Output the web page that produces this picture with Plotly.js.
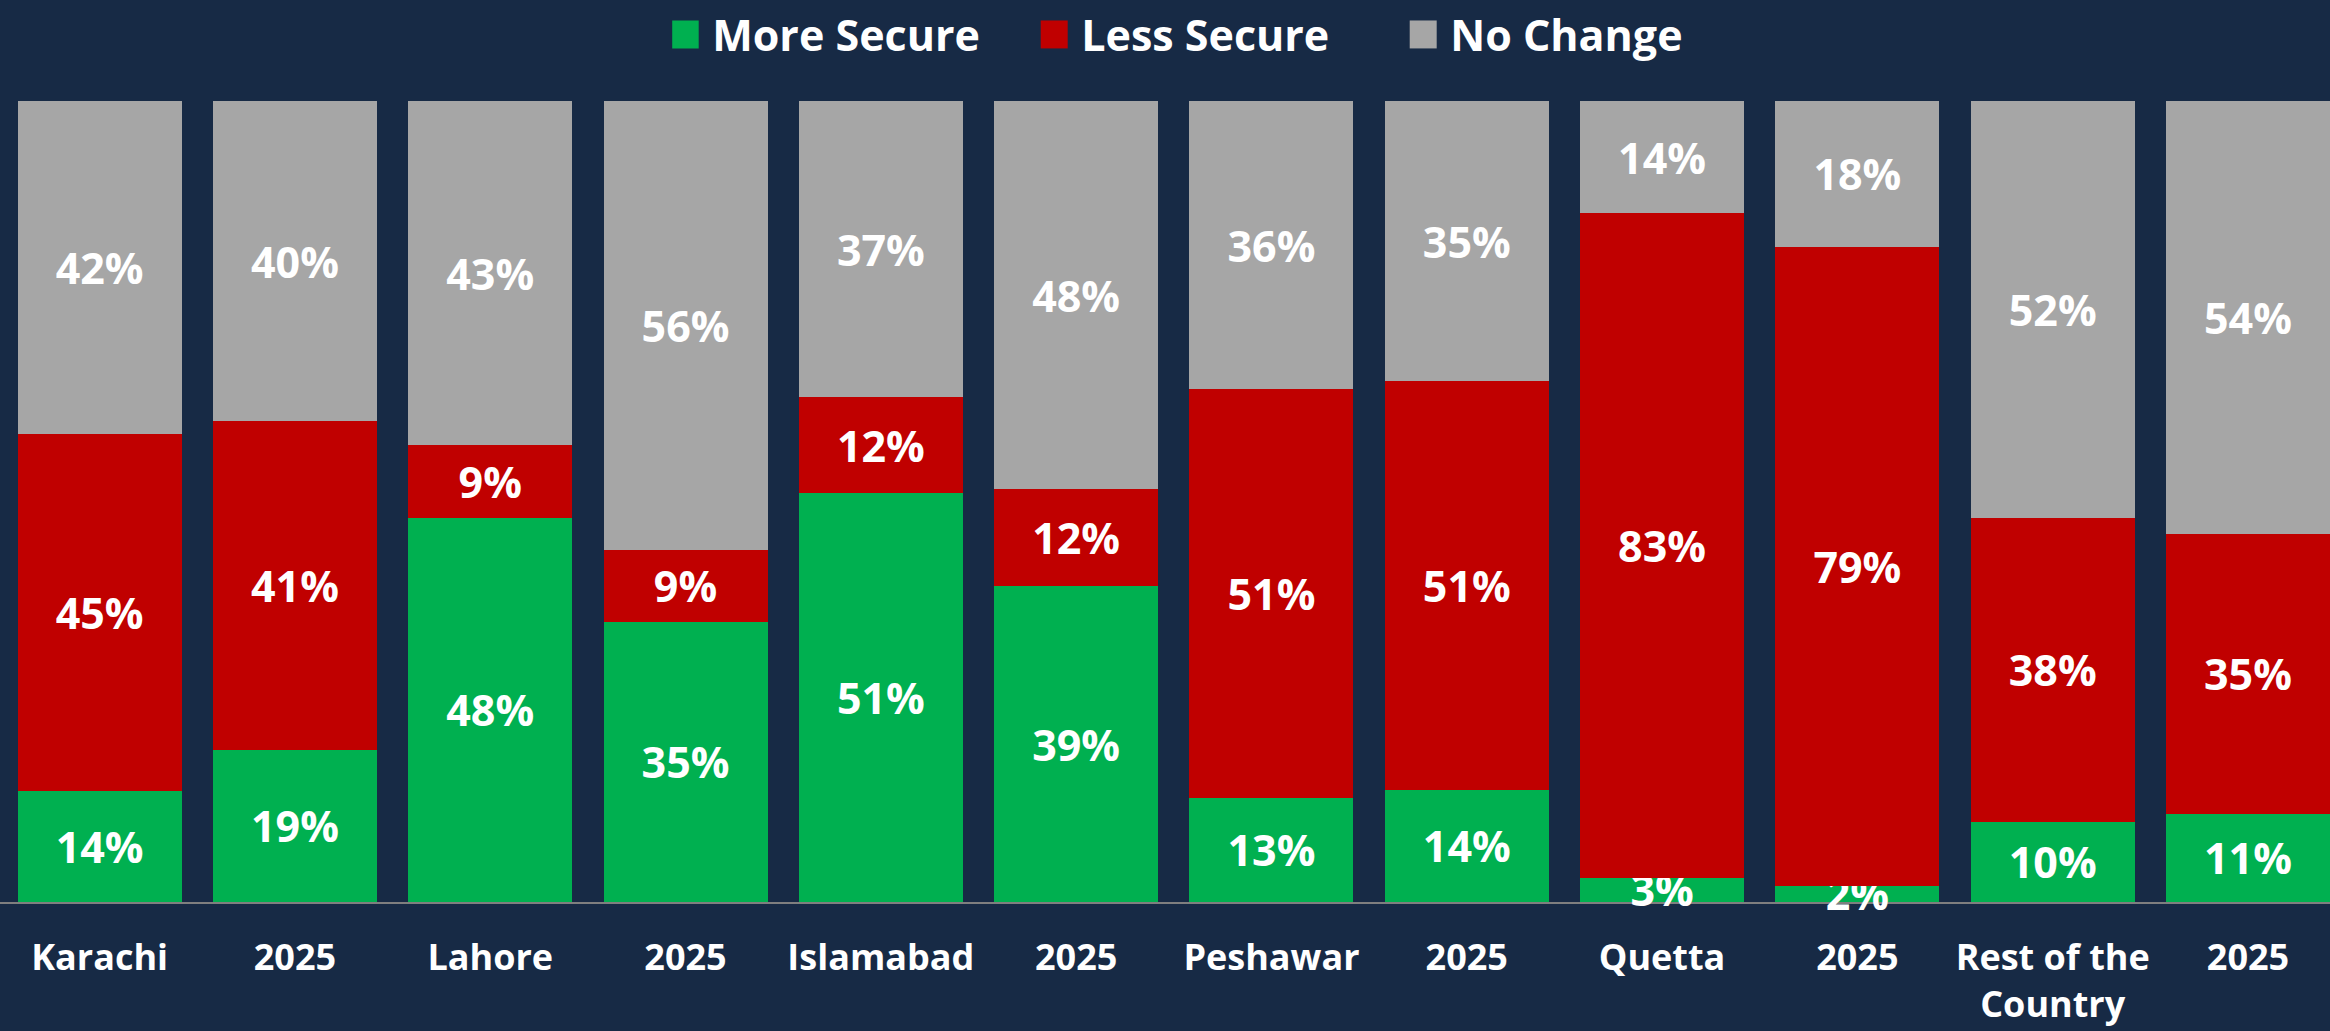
<!DOCTYPE html>
<html>
<head>
<meta charset="utf-8">
<script src="https://cdn.plot.ly/plotly-3.0.1.min.js"></script>
<style>
html,body{margin:0;padding:0;background:#172a45;}
#chart{width:2330px;height:1031px;}
</style>
</head>
<body>
<div id="chart"></div>
<script>
const labels = ['Karachi','2025','Lahore','2025','Islamabad','2025','Peshawar','2025','Quetta','2025','Rest of the<br>Country','2025'];
const moreSecure = [14,19,48,35,51,39,13,14,3,2,10,11];
const lessSecure = [45,41,9,9,12,12,51,51,83,79,38,35];
const noChange   = [42,40,43,56,37,48,36,35,14,18,52,54];
const seriesNames = ['More Secure','Less Secure','No Change'];
const seriesColors = ['#00b050','#c00000','#a6a6a6'];

const xs = labels.map((_, i) => i);
const FONT = '"Open Sans", "DejaVu Sans", sans-serif';

function mk(vals, idx) {
  return {
    type: 'bar',
    x: xs,
    y: vals,
    name: seriesNames[idx],
    marker: {color: seriesColors[idx], line: {width: 0}},
    text: vals.map(v => v + '%'),
    texttemplate: '%{text}',
    textposition: 'inside',
    insidetextanchor: 'middle',
    textangle: 0,
    constraintext: 'none',
    cliponaxis: false,
    insidetextfont: {family: FONT, size: 43, color: '#ffffff', weight: 700},
    hoverinfo: 'name+text'
  };
}

const data = [mk(moreSecure, 0), mk(lessSecure, 1), mk(noChange, 2)];

const layout = {
  width: 2330,
  height: 1031,
  paper_bgcolor: '#172a45',
  plot_bgcolor: '#172a45',
  barmode: 'stack',
  barnorm: 'percent',
  bargap: 0.16,
  margin: {l: 0, r: 0, t: 101, b: 129, pad: 0},
  uniformtext: {mode: 'show', minsize: 43},
  font: {family: FONT, color: '#ffffff'},
  showlegend: true,
  legend: {
    orientation: 'h',
    x: 0.2885, xanchor: 'left',
    y: 1, yref: 'container', yanchor: 'top',
    entrywidth: 324,
    entrywidthmode: 'pixels',
    font: {family: FONT, size: 43, color: '#ffffff', weight: 700},
    bgcolor: 'rgba(0,0,0,0)',
    traceorder: 'normal',
    itemclick: false
  },
  xaxis: {
    range: [-0.51, 11.42],
    tickmode: 'array',
    tickvals: xs,
    ticktext: labels,
    ticks: '',
    ticklabelstandoff: 23,
    tickfont: {family: FONT, size: 36, color: '#ffffff', weight: 700},
    showline: true,
    linecolor: '#7f7f7f',
    linewidth: 2,
    showgrid: false,
    zeroline: false,
    layer: 'below traces',
    fixedrange: true
  },
  yaxis: {
    range: [0, 100.001],
    showticklabels: false,
    showgrid: false,
    zeroline: false,
    showline: false,
    layer: 'below traces',
    fixedrange: true
  }
};

Plotly.newPlot('chart', data, layout, {displayModeBar: false, staticPlot: true}).then(() => {
  document.querySelectorAll('.legend .legendpoints path').forEach(p => {
    const t = p.getAttribute('transform') || '';
    p.setAttribute('transform', t + ' translate(-7,0) scale(2.25,2.33)');
  });
});
</script>
</body>
</html>
